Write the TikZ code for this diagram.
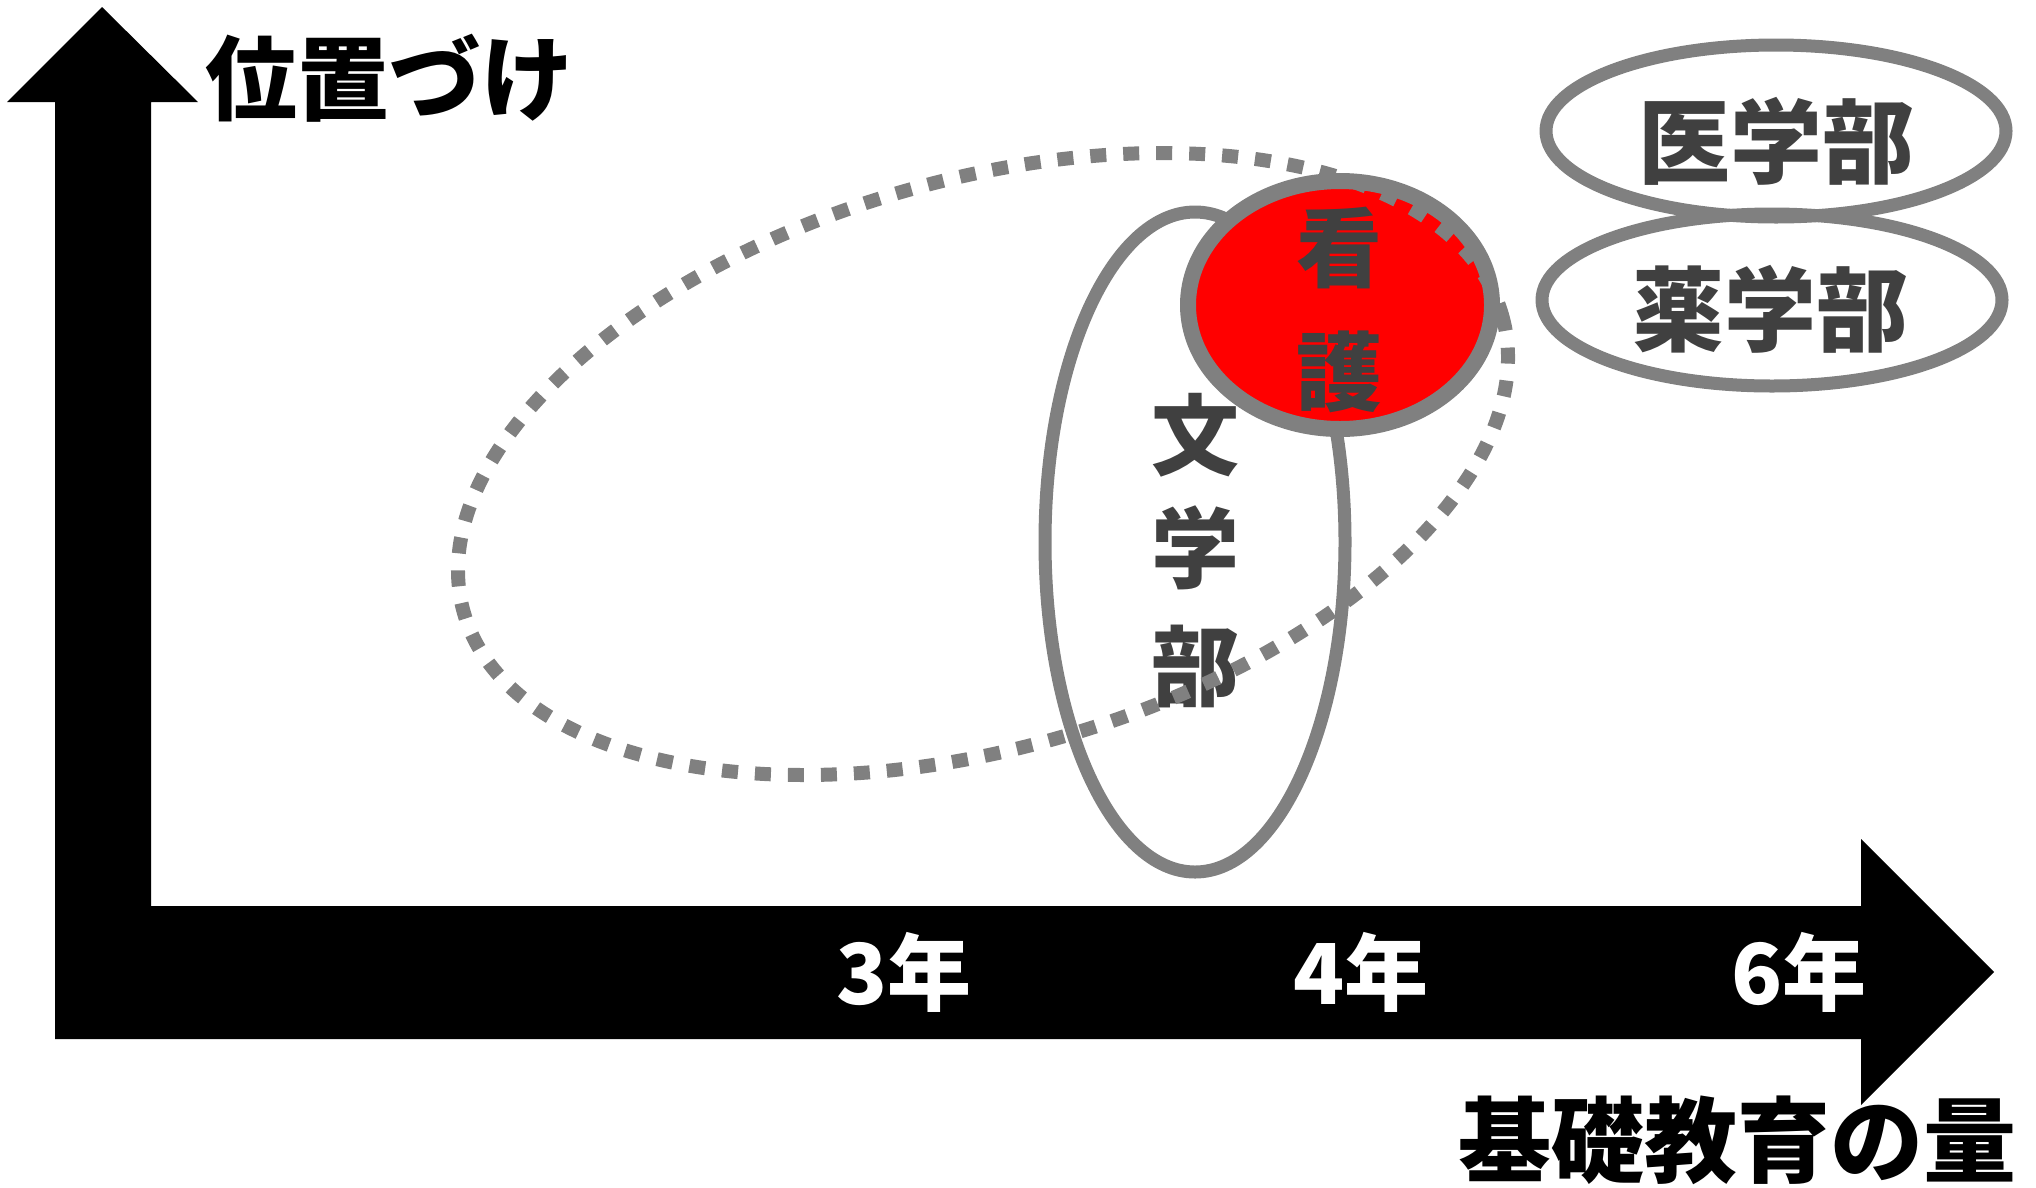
\documentclass[tikz,border=0pt]{standalone}
\usepackage{fontspec}
\setmainfont{Noto Sans CJK JP}
\usetikzlibrary{shapes.geometric}
\definecolor{ringgray}{RGB}{128,128,128}
\definecolor{labelgray}{RGB}{64,64,64}
\tikzset{
  ring/.style={draw=ringgray, line width=13pt},
  nursering/.style={draw=ringgray, line width=16pt, fill=red},
  dotring/.style={draw=ringgray, line width=14pt, dash pattern=on 16pt off 17pt},
  axislabel/.style={inner sep=0pt, text=black, font=\bfseries\fontsize{92}{92}\selectfont},
  yearlabel/.style={inner sep=0pt, text=white, font=\bfseries\fontsize{84}{84}\selectfont},
  facultylabel/.style={inner sep=0pt, text=labelgray, font=\bfseries\fontsize{92}{92}\selectfont},
  litlabel/.style={inner sep=0pt, text=labelgray, font=\bfseries\fontsize{88}{88}\selectfont},
  nurselabel/.style={inner sep=0pt, text=labelgray, font=\bfseries\fontsize{86}{86}\selectfont}
}
\begin{document}
\begin{tikzpicture}[x=1pt,y=-1pt]
\useasboundingbox (0,0) rectangle (2036,1187);
% axes
\fill[black] (55,1039) -- (55,102) -- (7,102) -- (102,7) -- (198,102) -- (151,102)
  -- (151,906) -- (1861,906) -- (1861,839) -- (1994,972) -- (1861,1105) -- (1861,1039) -- cycle;
\node[axislabel] (ylab) at (389,78) {位置づけ};
\node[axislabel, font=\bfseries\fontsize{93}{93}\selectfont] (xlab) at (1737,1140) {基礎教育の量};
\node[yearlabel] (y3) at (904,972) {3年};
\node[yearlabel] (y4) at (1361,972) {4年};
\node[yearlabel] (y6) at (1799,972) {6年};
% medicine / pharmacy
\draw[ring] (1776,131) ellipse [x radius=230, y radius=86];
\draw[ring] (1772,300) ellipse [x radius=230, y radius=86];
\node[facultylabel] (med) at (1776,141) {医学部};
\node[facultylabel] (pharm) at (1770,309) {薬学部};
% literature
\draw[ring] (1195,542) ellipse [x radius=150, y radius=330];
% nursing
\draw[nursering] (1340,305) ellipse [x radius=152, y radius=124];
\node[litlabel] (lit1) at (1195,435) {文};
\node[litlabel] (lit2) at (1195,548) {学};
\node[litlabel] (lit3) at (1195,666) {部};
\node[nurselabel] (n1) at (1339,248) {看};
\node[nurselabel] (n2) at (1339,372) {護};
% dotted ellipse
\draw[dotring, rotate around={16:(983,464)}] (983,464) ellipse [x radius=540, y radius=284];
\end{tikzpicture}
\end{document}
